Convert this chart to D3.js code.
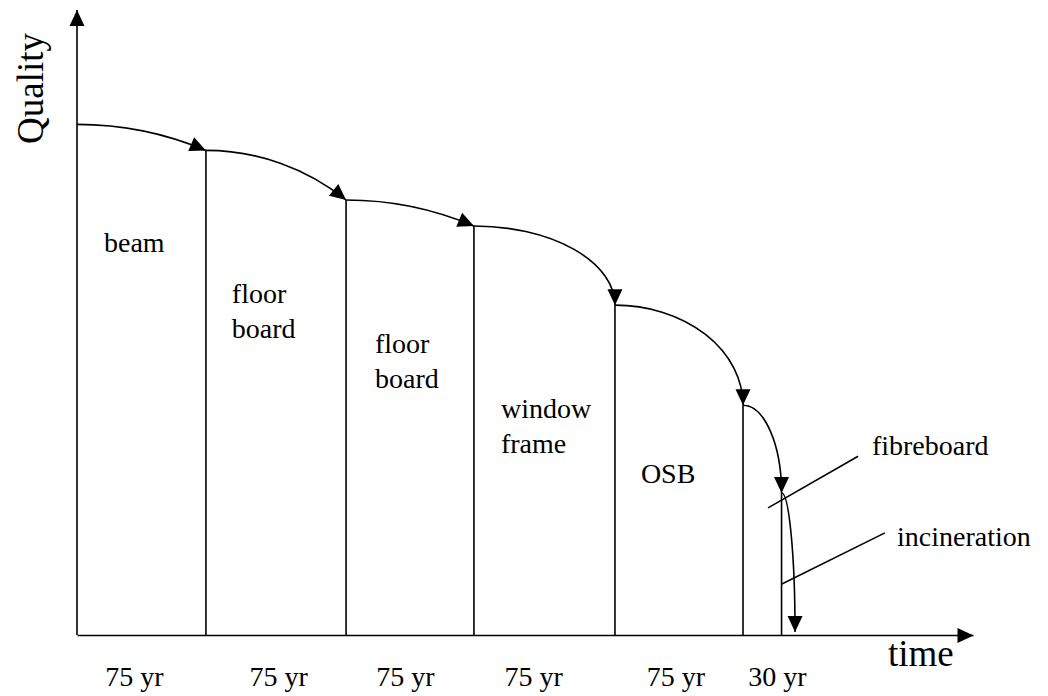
<!DOCTYPE html>
<html>
<head>
<meta charset="utf-8">
<script src="https://cdn.jsdelivr.net/npm/d3@7/dist/d3.min.js"></script>
<style>
  html, body { margin: 0; padding: 0; background: #fff; }
  svg { display: block; }
</style>
</head>
<body>
<svg id="chart" width="1048" height="696"></svg>
<script>
// ---- data (schematic time units / quality units) ----
const products      = ["beam", "floor board", "floor board", "window frame", "OSB", "fibreboard"];
const startTimes    = [0, 72.6, 151.5, 223.5, 302.9, 375, 396.7];   // start of each use phase
const startQuality  = [100, 94.9, 85.2, 80.1, 64.6, 45.0, 27.8];    // quality at start of each phase
const endTime       = 404.3;   // incineration
const endQuality    = 0.6;
const durations     = ["75 yr", "75 yr", "75 yr", "75 yr", "75 yr", "30 yr"];
const durationCenters = [32.1, 113.2, 184.7, 256.8, 337.0, 394.1];
const axisMax = { time: 504.5, quality: 122.4 };

// label placement (layout, not data)
const labelLayout = [
  { dx: 15.2, q: 75.0 },
  { dx: 14.6, q: 65.0 },
  { dx: 16.3, q: 55.2 },
  { dx: 15.2, q: 42.5 },
  { dx: 14.6, q: 29.8 }
];
const leaders = [
  { text: "fibreboard",   t0: 389.1, q0: 24.9, t1: 439.8, q1: 35.0, tt: 447.6, tq: 35.2 },
  { text: "incineration", t0: 396.9, q0: 10.0, t1: 454.9, q1: 20.0, tt: 461.7, tq: 17.4 }
];

const FONT = "'Liberation Serif', 'Times New Roman', serif";
const svg = d3.select("#chart");
const x = d3.scaleLinear().domain([0, axisMax.time]).range([77, 973]);
const y = d3.scaleLinear().domain([0, axisMax.quality]).range([635, 10]);
const SW = 1.6;

// arrow marker
const defs = svg.append("defs");
defs.append("marker")
  .attr("id", "arrow")
  .attr("markerUnits", "userSpaceOnUse")
  .attr("viewBox", "-17 -9 18 18")
  .attr("markerWidth", 18).attr("markerHeight", 18)
  .attr("refX", 0).attr("refY", 0)
  .attr("orient", "auto")
  .append("path").attr("d", "M0,0 L-16,-7.5 L-16,7.5 Z").attr("fill", "#000");

// axes
const gx = svg.append("g").attr("transform", `translate(0,${y(0)})`)
  .call(d3.axisBottom(x).tickValues([]).tickSizeOuter(0));
gx.select(".domain").attr("stroke", "#000").attr("stroke-width", SW).attr("marker-end", "url(#arrow)");

const gy = svg.append("g").attr("transform", `translate(${x(0)},0)`)
  .call(d3.axisLeft(y).tickValues([]).tickSizeOuter(0));
gy.select(".domain").attr("stroke", "#000").attr("stroke-width", SW)
  .attr("d", `M0,${y(0)}V${y(axisMax.quality)}`)
  .attr("marker-end", "url(#arrow)");

// duration labels via axis ticks
const gd = svg.append("g").attr("transform", `translate(0,${y(0)})`)
  .call(d3.axisBottom(x).tickValues(durationCenters).tickFormat((d, i) => durations[i]).tickSize(0).tickPadding(31));
gd.select(".domain").remove();
gd.attr("font-family", FONT).attr("font-size", 28);
gd.selectAll("text").attr("font-family", FONT).attr("font-size", 28).attr("fill", "#000");

// vertical phase boundaries
svg.append("g").selectAll("line")
  .data(startTimes.slice(1).map((t, i) => ({ t, q: startQuality[i + 1] })))
  .join("line")
  .attr("x1", d => x(d.t)).attr("x2", d => x(d.t))
  .attr("y1", d => y(d.q)).attr("y2", y(0))
  .attr("stroke", "#000").attr("stroke-width", SW);

// transition curves
const pts = startTimes.map((t, i) => [x(t), y(startQuality[i])]);
pts.push([x(endTime), y(endQuality)]);
function arcPath(p0, p1) {
  const dx = p1[0] - p0[0], dy = p1[1] - p0[1];
  if (dy < dx / 2) {
    const R = (dx * dx + dy * dy) / (2 * dy);
    return `M${p0[0]},${p0[1]} A${R},${R} 0 0 1 ${p1[0]},${p1[1]}`;
  }
  return `M${p0[0]},${p0[1]} A${dx},${dy} 0 0 1 ${p1[0]},${p1[1]}`;
}
svg.append("g").selectAll("path")
  .data(d3.pairs(pts))
  .join("path")
  .attr("d", d => arcPath(d[0], d[1]))
  .attr("fill", "none").attr("stroke", "#000").attr("stroke-width", SW)
  .attr("marker-end", "url(#arrow)");

// product labels
labelLayout.forEach((L, i) => {
  const words = products[i].split(" ");
  const t = svg.append("text")
    .attr("x", x(startTimes[i] + L.dx)).attr("y", y(L.q))
    .attr("font-family", FONT).attr("font-size", 28).attr("fill", "#000");
  words.forEach((w, j) => {
    t.append("tspan").attr("x", x(startTimes[i] + L.dx)).attr("dy", j === 0 ? 0 : 35).text(w);
  });
});

// leader lines
leaders.forEach(L => {
  svg.append("line")
    .attr("x1", x(L.t0)).attr("y1", y(L.q0))
    .attr("x2", x(L.t1)).attr("y2", y(L.q1))
    .attr("stroke", "#000").attr("stroke-width", SW);
  svg.append("text").attr("x", x(L.tt)).attr("y", y(L.tq))
    .attr("font-family", FONT).attr("font-size", 28).attr("fill", "#000").text(L.text);
});

// axis titles
svg.append("text").attr("x", 888).attr("y", 666)
  .attr("font-family", FONT).attr("font-size", 37).attr("fill", "#000").text("time");
svg.append("text").attr("transform", "translate(43,88.5) rotate(-90)")
  .attr("text-anchor", "middle").attr("font-family", FONT).attr("font-size", 37).attr("fill", "#000").text("Quality");
</script>
</body>
</html>
